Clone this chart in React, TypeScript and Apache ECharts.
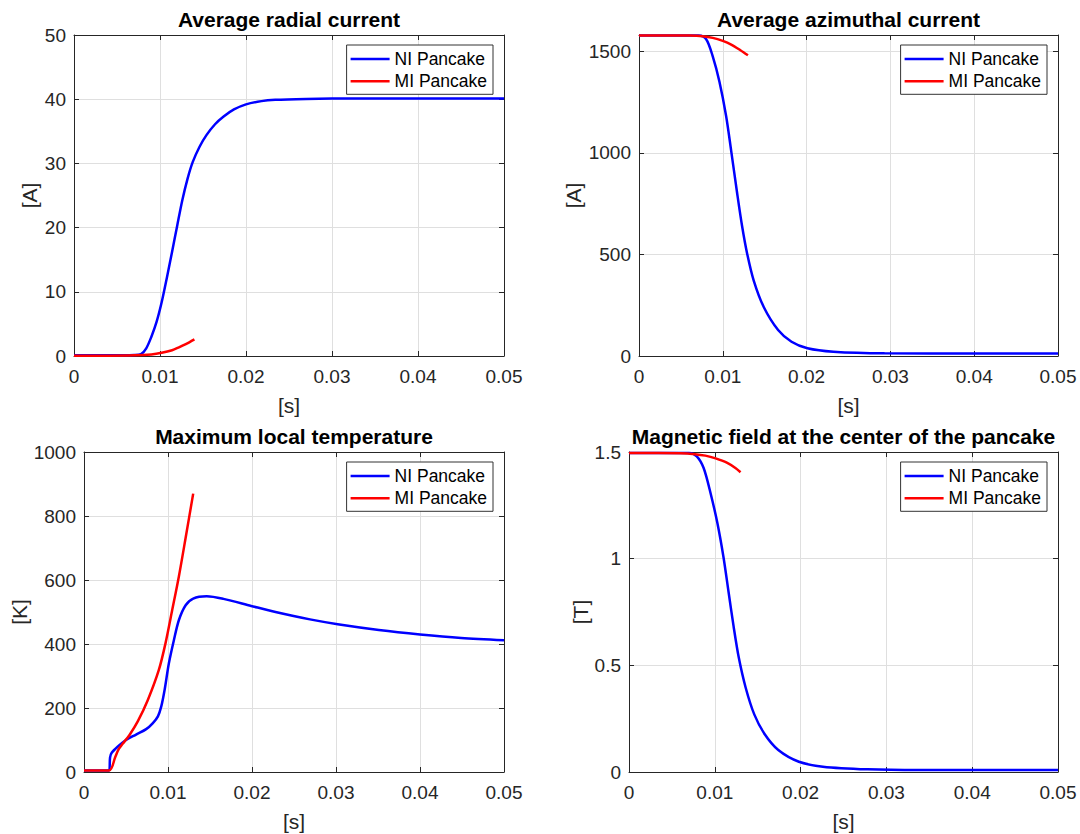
import React, { useEffect, useRef } from "react";
import * as echarts from "echarts";

const titles = [
  "Average radial current",
  "Average azimuthal current",
  "Maximum local temperature",
  "Magnetic field at the center of the pancake",
];
const yNames = ["[A]", "[A]", "[K]", "[T]"];
const xName = "[s]";
const seriesNames = ["NI Pancake", "MI Pancake"];
const xMin = 0;
const xMax = 0.05;
const xStep = 0.01;
const yMins = [0, 0, 0, 0];
const yMaxs = [50, 1580, 1000, 1.5];
const ySteps = [10, 500, 200, 0.5];

// Average radial current
const radialNI_t = [0, 0.004, 0.007, 0.0078, 0.0084, 0.009, 0.0096, 0.0102, 0.0108, 0.0114, 0.012, 0.0126, 0.0132, 0.0138, 0.0146, 0.0154, 0.0164, 0.0174, 0.0186, 0.02, 0.0218, 0.0234, 0.027, 0.03, 0.04, 0.05];
const radialNI_v = [0.1, 0.1, 0.15, 0.3, 1.2, 3.0, 5.3, 8.4, 12.2, 16.2, 20.3, 24.3, 27.6, 30.2, 32.6, 34.4, 36.1, 37.3, 38.4, 39.2, 39.7, 39.9, 40.05, 40.1, 40.1, 40.1];
const radialMI_t = [0, 0.004, 0.007, 0.009, 0.0102, 0.0114, 0.0122, 0.013, 0.014];
const radialMI_v = [0.05, 0.05, 0.1, 0.25, 0.5, 0.9, 1.35, 1.85, 2.6];

// Average azimuthal current
const azimNI_t = [0, 0.004, 0.0071, 0.008, 0.0088, 0.0096, 0.0104, 0.011, 0.0117, 0.0123, 0.0129, 0.0137, 0.0149, 0.0166, 0.0182, 0.0201, 0.0232, 0.0293, 0.04, 0.05];
const azimNI_v = [1578, 1578, 1577, 1560, 1475, 1350, 1180, 1010, 805, 640, 505, 370, 240, 128, 70, 38, 21, 13, 12, 12];
const azimMI_t = [0, 0.006, 0.0076, 0.0088, 0.01, 0.011, 0.0121, 0.013];
const azimMI_v = [1578, 1577, 1574, 1566, 1551, 1533, 1505, 1480];

// Maximum local temperature
const tempNI_t = [0, 0.003, 0.0031, 0.0033, 0.004, 0.005, 0.0062, 0.0074, 0.0082, 0.0088, 0.0092, 0.0096, 0.0101, 0.0107, 0.0113, 0.0121, 0.013, 0.0146, 0.0166, 0.0199, 0.0228, 0.0269, 0.0302, 0.0351, 0.04, 0.0449, 0.05];
const tempNI_v = [5, 5, 45, 60, 79, 100, 117, 134, 153, 174, 205, 257, 339, 412, 475, 521, 542, 549, 541, 519, 500, 477, 462, 444, 430, 419, 412];
const tempMI_t = [0, 0.003, 0.0037, 0.0041, 0.0046, 0.0054, 0.0064, 0.0076, 0.0089, 0.0097, 0.0105, 0.0113, 0.0121, 0.013];
const tempMI_v = [5, 5, 45, 70, 88, 115, 158, 225, 318, 402, 506, 612, 732, 870];

// Magnetic field at the center
const fieldNI_t = [0, 0.007, 0.0079, 0.0087, 0.0095, 0.0103, 0.011, 0.0116, 0.0122, 0.0128, 0.0136, 0.0146, 0.0158, 0.0174, 0.0198, 0.0226, 0.0278, 0.0338, 0.05];
const fieldNI_v = [1.495, 1.495, 1.48, 1.425, 1.308, 1.167, 1.01, 0.845, 0.68, 0.535, 0.395, 0.27, 0.178, 0.103, 0.048, 0.025, 0.0125, 0.009, 0.009];
const fieldMI_t = [0, 0.006, 0.0077, 0.0089, 0.0101, 0.0114, 0.0124, 0.013];
const fieldMI_v = [1.495, 1.494, 1.49, 1.483, 1.47, 1.45, 1.425, 1.405];

const FONT = "'Liberation Sans', Arial, Helvetica, sans-serif";
const INK = "#262626";
const GRIDC = "#dfdfdf";
const COLORS = ["#0000ff", "#ff0000"];

const grids = [
  { left: 74, top: 35, width: 430, height: 321 },
  { left: 639, top: 35, width: 419, height: 321 },
  { left: 84, top: 452, width: 420, height: 320 },
  { left: 629, top: 452, width: 429, height: 320 },
];
const yNameGaps = [34, 55, 54, 38];

const zip = (t: number[], v: number[]) => t.map((x, i) => [x, v[i]]);

const panels = [
  [zip(radialNI_t, radialNI_v), zip(radialMI_t, radialMI_v)],
  [zip(azimNI_t, azimNI_v), zip(azimMI_t, azimMI_v)],
  [zip(tempNI_t, tempNI_v), zip(tempMI_t, tempMI_v)],
  [zip(fieldNI_t, fieldNI_v), zip(fieldMI_t, fieldMI_v)],
];

const plain = (v: number) => String(parseFloat(Number(v).toPrecision(12)));

function buildOption() {
  const axisLine = { show: true, onZero: false, lineStyle: { color: INK, width: 1 } };
  const axisTick = { show: true, inside: true, length: 5, lineStyle: { color: INK, width: 1 } };
  const xAxis: any[] = [];
  const yAxis: any[] = [];
  const series: any[] = [];
  const legend: any[] = [];
  const graphic: any[] = [];

  grids.forEach((g, i) => {
    xAxis.push({
      type: "value", gridIndex: i, min: xMin, max: xMax, interval: xStep, position: "bottom",
      name: xName, nameLocation: "middle", nameGap: 39,
      nameTextStyle: { fontSize: 21, fontFamily: FONT, color: INK, lineHeight: 21 },
      axisLine, axisTick,
      axisLabel: { fontSize: 19, fontFamily: FONT, color: INK, margin: 11, lineHeight: 19, formatter: plain },
      splitLine: { show: true, lineStyle: { color: GRIDC, width: 1 } },
    });
    xAxis.push({
      type: "value", gridIndex: i, min: xMin, max: xMax, interval: xStep, position: "top",
      axisLine, axisTick, axisLabel: { show: false }, splitLine: { show: false },
    });
    yAxis.push({
      type: "value", gridIndex: i, min: yMins[i], max: yMaxs[i], interval: ySteps[i], position: "left",
      name: yNames[i], nameLocation: "middle", nameGap: yNameGaps[i],
      nameTextStyle: { fontSize: 21, fontFamily: FONT, color: INK, lineHeight: 21 },
      axisLine, axisTick,
      axisLabel: { fontSize: 19, fontFamily: FONT, color: INK, margin: 8, showMaxLabel: i === 1 ? false : true, formatter: plain },
      splitLine: { show: true, lineStyle: { color: GRIDC, width: 1 } },
    });
    yAxis.push({
      type: "value", gridIndex: i, min: yMins[i], max: yMaxs[i], interval: ySteps[i], position: "right",
      axisLine, axisTick, axisLabel: { show: false }, splitLine: { show: false },
    });
    panels[i].forEach((data, k) => {
      series.push({
        type: "line", name: seriesNames[k], xAxisIndex: 2 * i, yAxisIndex: 2 * i,
        data, symbol: "none", showSymbol: false, smooth: 0.3,
        lineStyle: { width: 2.5, color: COLORS[k] }, itemStyle: { color: COLORS[k] },
        z: 3 + k, clip: true,
      });
    });
    legend.push({
      data: seriesNames, orient: "vertical", right: 1080 - (g.left + g.width - 11), top: g.top + 10,
      padding: [4.5, 6, 3.5, 4], itemGap: 3.3, itemWidth: 39, itemHeight: 2.5, icon: "rect",
      borderColor: "#333", borderWidth: 1, backgroundColor: "#fff", selectedMode: false,
      textStyle: { fontSize: 17.5, fontFamily: FONT, color: "#000", lineHeight: 19 },
    });
    graphic.push({
      type: "text", x: g.left + g.width / 2, y: g.top - 15.5,
      style: {
        text: titles[i], fontSize: 21, fontWeight: "bold", fontFamily: FONT, fill: "#000",
        textAlign: "center", textVerticalAlign: "middle",
      },
    });
  });

  return {
    animation: false,
    backgroundColor: "#fff",
    grid: grids.map((g) => ({ ...g, containLabel: false, outerBoundsMode: "none" })),
    xAxis, yAxis, series, legend, graphic,
  };
}

export default function App() {
  const ref = useRef<HTMLDivElement>(null);
  useEffect(() => {
    document.body.style.margin = "0";
    const chart = echarts.init(ref.current as HTMLDivElement, undefined, { renderer: "svg" });
    chart.setOption(buildOption() as any);
    return () => chart.dispose();
  }, []);
  return <div ref={ref} style={{ position: "absolute", left: 0, top: 0, width: 1080, height: 834 }} />;
}
